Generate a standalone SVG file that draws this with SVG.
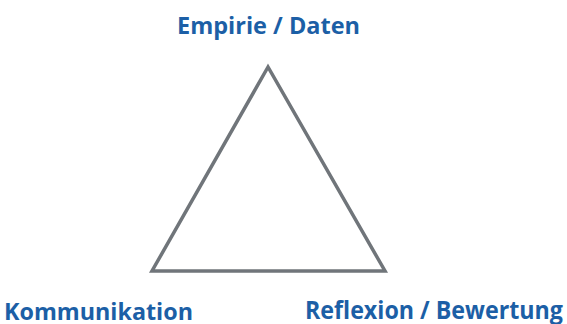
<svg xmlns="http://www.w3.org/2000/svg" width="567" height="324" viewBox="0 0 567 324">
<style>
.lbl{font-family:"Open Sans","Liberation Sans",sans-serif;font-weight:bold;fill:#1c5fa6}
.edge{fill:none;stroke:#70757a;stroke-width:3.5;stroke-linejoin:miter}
</style>
<rect width="567" height="324" fill="#ffffff"/>
<g id="connectors">
<polygon class="edge" points="268,67 152,271 385,271"/>
</g>
<g id="node-empirie"><text class="lbl" x="177" y="33.5" font-size="23" textLength="183" lengthAdjust="spacingAndGlyphs">Empirie / Daten</text></g>
<g id="node-kommunikation"><text class="lbl" x="4" y="320" font-size="24" textLength="189" lengthAdjust="spacingAndGlyphs">Kommunikation</text></g>
<g id="node-reflexion"><text class="lbl" x="305" y="319" font-size="25" textLength="258" lengthAdjust="spacingAndGlyphs">Reflexion / Bewertung</text></g>
</svg>
